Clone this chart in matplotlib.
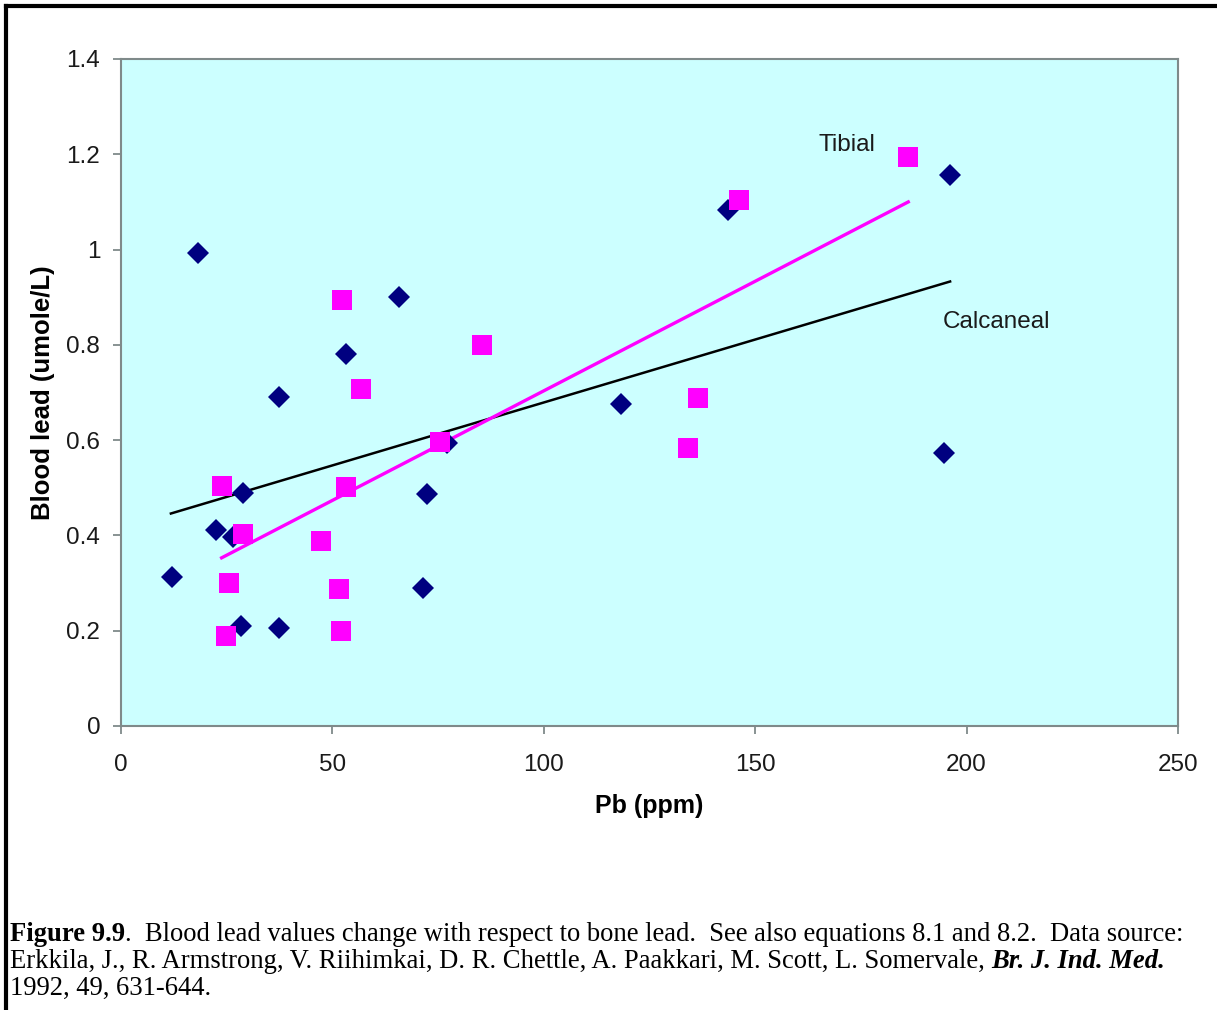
import matplotlib.pyplot as plt
from matplotlib.lines import Line2D

# Calcaneal (navy diamonds)
calc_x = [12.1, 18.1, 22.5, 26.6, 28.9, 28.4, 37.4, 37.4, 53.2, 65.7,
          72.3, 71.4, 77.0, 118.2, 143.6, 196.1, 194.7]
calc_y = [0.313, 0.992, 0.412, 0.397, 0.490, 0.210, 0.690, 0.205, 0.780, 0.900,
          0.488, 0.289, 0.593, 0.676, 1.083, 1.157, 0.572]

# Tibial (magenta squares)
tib_x = [52.3, 85.5, 56.8, 23.8, 28.9, 47.2, 53.2, 25.6, 51.6, 24.8,
         52.0, 75.4, 186.1, 146.2, 136.4, 134.2]
tib_y = [0.895, 0.800, 0.707, 0.504, 0.402, 0.388, 0.501, 0.300, 0.288, 0.189,
         0.199, 0.597, 1.195, 1.103, 0.688, 0.584]

# Trend lines (end points)
calc_fit_x = [11.8, 196.1]
calc_fit_y = [0.446, 0.933]
tib_fit_x = [23.8, 186.2]
tib_fit_y = [0.353, 1.100]

x_ticks = [0, 50, 100, 150, 200, 250]
y_ticks = [0, 0.2, 0.4, 0.6, 0.8, 1, 1.2, 1.4]
y_tick_labels = ['0', '0.2', '0.4', '0.6', '0.8', '1', '1.2', '1.4']

W, H = 1217, 1010
fig = plt.figure(figsize=(W / 100, H / 100), dpi=100)
plt.rcParams['font.family'] = ['Liberation Sans', 'DejaVu Sans']

ax = fig.add_axes([121 / W, 1 - 726 / H, (1178 - 121) / W, (726 - 59) / H])
ax.set_facecolor('#ccffff')

grey = '#7f8a8a'
for s in ax.spines.values():
    s.set_color(grey)
    s.set_linewidth(1.5)

ax.plot(calc_fit_x, calc_fit_y, color='black', lw=1.8, zorder=2)
ax.plot(tib_fit_x, tib_fit_y, color='#ff00ff', lw=2.4, zorder=2)
ax.plot(calc_x, calc_y, 'D', color='#000080', ms=11, mew=0, zorder=3)
ax.plot(tib_x, tib_y, 's', color='#ff00ff', ms=14.5, mew=0, zorder=4)

ax.set_xlim(0, 250)
ax.set_ylim(0, 1.4)
ax.set_xticks(x_ticks)
ax.set_yticks(y_ticks)
ax.set_yticklabels(y_tick_labels)
ax.tick_params(direction='out', length=6, width=1.3, color=grey,
               labelsize=17.5, labelcolor='#1a1a1a')
ax.tick_params(axis='x', pad=14)
ax.tick_params(axis='y', pad=9)

ax.set_xlabel('Pb (ppm)', fontsize=18, fontweight='bold', labelpad=13)
ax.set_ylabel('Blood lead (umole/L)', fontsize=18.5, fontweight='bold', labelpad=8)

ax.text(171.7, 1.22, 'Tibial', fontsize=17.5, ha='center', va='center', color='#1a1a1a')
ax.text(194.3, 0.849, 'Calcaneal', fontsize=17.5, ha='left', va='center', color='#1a1a1a')

# border lines of the page cell (top and left)
fig.add_artist(Line2D([6 / W, 1], [1 - 6 / H, 1 - 6 / H], color='black', lw=3))
fig.add_artist(Line2D([6 / W, 6 / W], [0, 1 - 6 / H], color='black', lw=3))

# caption
serif = ['Liberation Serif', 'DejaVu Serif']
cap = 19.2
t1 = fig.text(10 / W, 1 - 947 / H, 'Figure 9.9', fontsize=cap, family=serif,
              fontweight='bold', va='bottom')
plt.annotate('.  Blood lead values change with respect to bone lead.  '
             'See also equations 8.1 and 8.2.  Data source:',
             xy=(1, 0), xycoords=t1, va='bottom', ha='left',
             fontsize=cap, family=serif)
t2 = fig.text(10 / W, 1 - 974 / H,
              'Erkkila, J., R. Armstrong, V. Riihimkai, D. R. Chettle, '
              'A. Paakkari, M. Scott, L. Somervale, ',
              fontsize=cap, family=serif, va='bottom')
plt.annotate('Br. J. Ind. Med.', xy=(1, 0), xycoords=t2, va='bottom', ha='left',
             fontsize=cap, family=serif, fontweight='bold', fontstyle='italic')
fig.text(10 / W, 1 - 1001 / H, '1992, 49, 631-644.',
         fontsize=cap, family=serif, va='bottom')

fig.savefig('out.png', dpi=100)
